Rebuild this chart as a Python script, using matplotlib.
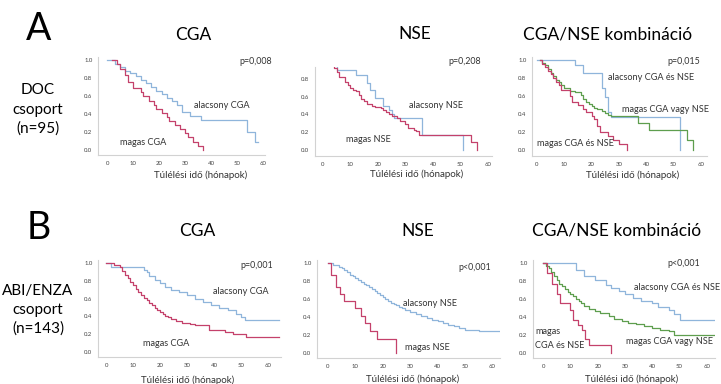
import numpy as np
import matplotlib
matplotlib.use("Agg")
import matplotlib.pyplot as plt

plt.rcParams['font.family'] = ['Lato', 'DejaVu Sans']

W, H = 721, 384

# ---- adatok (Kaplan-Meier lépcsők) ----
# A sor: DOC csoport
a_cga_low_t = [0, 3, 5, 7, 9, 11, 13, 15, 17, 19, 21, 23, 25, 27, 29, 32, 36, 54, 57]
a_cga_low_s = [1.0, 0.96, 0.92, 0.88, 0.85, 0.82, 0.78, 0.74, 0.70, 0.66, 0.62, 0.58, 0.55, 0.50, 0.42, 0.38, 0.33, 0.20, 0.09]
a_cga_low_end = 58
a_cga_high_t = [2, 4, 5, 7, 8, 10, 13, 14, 16, 18, 19, 21, 23, 24, 26, 28, 30, 31, 33, 35, 37]
a_cga_high_s = [1.0, 0.96, 0.90, 0.83, 0.76, 0.69, 0.64, 0.60, 0.55, 0.50, 0.46, 0.41, 0.37, 0.32, 0.28, 0.23, 0.19, 0.14, 0.09, 0.05, 0.0]

a_nse_low_t = [0, 5, 12, 16, 17, 19, 22, 24, 25, 26, 36, 51]
a_nse_low_s = [1.0, 0.90, 0.85, 0.76, 0.68, 0.59, 0.50, 0.45, 0.40, 0.36, 0.17, 0.0]
a_nse_high_t = [0, 4, 5, 6, 8, 9, 10, 11, 12, 13, 14, 15, 16, 18, 19, 21, 22, 23, 24, 25, 27, 28, 30, 31, 33, 34, 35, 54, 56]
a_nse_high_s = [1.0, 0.92, 0.88, 0.82, 0.77, 0.73, 0.70, 0.68, 0.66, 0.62, 0.58, 0.55, 0.52, 0.50, 0.48, 0.47, 0.45, 0.43, 0.40, 0.38, 0.36, 0.33, 0.29, 0.25, 0.23, 0.21, 0.17, 0.09, 0.0]

a_kom_low_t = [0, 14, 17, 24, 25, 26, 27, 52.5]
a_kom_low_s = [1.0, 0.94, 0.85, 0.69, 0.59, 0.42, 0.37, 0.0]
a_kom_mid_t = [1, 2, 3, 4, 5, 6, 7, 8, 9, 10, 12, 14, 16, 17, 18, 19, 20, 21, 22, 24, 25, 26, 27, 37, 41, 55, 57]
a_kom_mid_s = [1.0, 0.97, 0.94, 0.90, 0.86, 0.82, 0.78, 0.75, 0.72, 0.69, 0.66, 0.64, 0.61, 0.57, 0.53, 0.51, 0.49, 0.47, 0.45, 0.43, 0.41, 0.39, 0.38, 0.30, 0.22, 0.11, 0.0]
a_kom_high_t = [1, 2, 3, 4, 5, 6, 7, 8, 9, 12, 13, 15, 17, 18, 20, 21, 22, 23, 26, 28, 30, 33]
a_kom_high_s = [1.0, 0.95, 0.92, 0.88, 0.84, 0.80, 0.76, 0.72, 0.67, 0.60, 0.53, 0.50, 0.46, 0.42, 0.38, 0.34, 0.27, 0.20, 0.15, 0.11, 0.07, 0.0]

# B sor: ABI/ENZA csoport
b_cga_low_t = [0, 2, 14, 15, 16, 18, 20, 22, 24, 27, 30, 33, 36, 39, 42, 45, 48, 50, 51.5]
b_cga_low_s = [1.0, 0.96, 0.92, 0.90, 0.85, 0.81, 0.77, 0.73, 0.70, 0.68, 0.64, 0.60, 0.56, 0.53, 0.50, 0.47, 0.43, 0.39, 0.36]
b_cga_low_end = 64
b_cga_high_t = [0, 3, 5, 6, 7, 8, 9, 10, 11, 12, 13, 14, 15, 16, 17, 18, 19, 20, 21, 22, 23, 24, 26, 28, 31, 33, 38, 44, 47, 52]
b_cga_high_s = [1.0, 0.98, 0.95, 0.91, 0.87, 0.83, 0.79, 0.75, 0.71, 0.67, 0.64, 0.61, 0.58, 0.55, 0.53, 0.50, 0.47, 0.45, 0.43, 0.41, 0.39, 0.37, 0.35, 0.33, 0.31, 0.30, 0.25, 0.22, 0.20, 0.17]
b_cga_high_end = 64

b_nse_low_t = [0, 2, 4, 5, 6, 7, 8, 9, 10, 11, 12, 13, 14, 15, 16, 17, 18, 19, 20, 21, 22, 23, 24, 25, 26, 27, 28, 30, 32, 34, 36, 38, 40, 42, 44, 46, 48, 50, 52, 55]
b_nse_low_s = [1.0, 0.98, 0.96, 0.94, 0.92, 0.90, 0.87, 0.85, 0.83, 0.81, 0.79, 0.77, 0.75, 0.73, 0.71, 0.69, 0.67, 0.64, 0.62, 0.60, 0.58, 0.56, 0.54, 0.53, 0.51, 0.50, 0.48, 0.46, 0.43, 0.41, 0.39, 0.37, 0.35, 0.33, 0.31, 0.30, 0.28, 0.26, 0.25, 0.24]
b_nse_low_end = 63
b_nse_high_t = [0, 1, 3, 4.5, 6, 10, 12, 13.5, 15.5, 18, 25]
b_nse_high_s = [1.0, 0.87, 0.73, 0.66, 0.58, 0.50, 0.41, 0.33, 0.24, 0.16, 0.0]

b_kom_low_t = [0, 12, 15, 19, 23, 25, 28, 30, 33, 36, 40, 42, 46, 48, 50]
b_kom_low_s = [1.0, 0.92, 0.86, 0.81, 0.76, 0.72, 0.69, 0.65, 0.61, 0.58, 0.55, 0.51, 0.48, 0.43, 0.37]
b_kom_low_end = 63
b_kom_mid_t = [0, 1, 2, 3, 4, 5, 6, 7, 8, 9, 10, 11, 12, 13, 14, 15, 17, 19, 21, 24, 26, 29, 31, 34, 37, 40, 43, 46, 48]
b_kom_mid_s = [1.0, 0.97, 0.94, 0.90, 0.85, 0.81, 0.77, 0.74, 0.71, 0.68, 0.65, 0.63, 0.60, 0.58, 0.55, 0.52, 0.49, 0.47, 0.44, 0.41, 0.38, 0.35, 0.33, 0.32, 0.30, 0.28, 0.26, 0.24, 0.20]
b_kom_mid_end = 63
b_kom_high_t = [0, 1.3, 3.2, 5, 6.2, 9.9, 11.1, 12.9, 14.2, 15.4, 17, 25]
b_kom_high_s = [1.0, 0.885, 0.77, 0.66, 0.55, 0.48, 0.37, 0.31, 0.26, 0.16, 0.09, 0.0]

BLUE = '#8fb5db'
RED = '#c4416b'
GREEN = '#5e9e4e'

fig = plt.figure(figsize=(W / 100, H / 100), dpi=100)


def px_axes(left, right, top, bottom):
    return fig.add_axes([left / W, 1 - bottom / H, (right - left) / W, (bottom - top) / H])


def ftext(x, y, s, **kw):
    fig.text(x / W, 1 - y / H, s, ha=kw.pop('ha', 'center'), va=kw.pop('va', 'center'), **kw)


def km(ax, t, s, color, end=None):
    t = list(t)
    s = list(s)
    if end is not None:
        t.append(end)
        s.append(s[-1])
    ax.step(t, s, where='post', color=color, lw=0.9)


def style(ax, xlim, ylim):
    yt = [v for v in np.arange(0, 1.01, 0.2) if v <= ylim[1]]
    ax.set_xticks(range(0, 61, 10))
    ax.set_yticks(yt)
    ax.set_yticklabels([f'{v:.1f}' for v in yt])
    ax.set_xlim(*xlim)
    ax.set_ylim(*ylim)
    for side in ['top', 'right']:
        ax.spines[side].set_visible(False)
    for side in ['left', 'bottom']:
        ax.spines[side].set_color('#d2d2d2')
        ax.spines[side].set_linewidth(0.8)
    ax.tick_params(length=0, labelsize=4.3, colors='#444444', pad=4)
    ax.patch.set_alpha(0)


# A sor
ax = px_axes(98, 265, 57, 155)
km(ax, a_cga_low_t, a_cga_low_s, BLUE, a_cga_low_end)
km(ax, a_cga_high_t, a_cga_high_s, RED)
style(ax, (-3.5, 60.8), (-0.055, 1.033))

ax = px_axes(315, 492, 67, 156)
km(ax, a_nse_low_t, a_nse_low_s, BLUE)
km(ax, a_nse_high_t, a_nse_high_s, RED)
style(ax, (-2.9, 61.5), (-0.068, 0.935))

ax = px_axes(532, 707, 57, 156)
km(ax, a_kom_low_t, a_kom_low_s, BLUE)
km(ax, a_kom_mid_t, a_kom_mid_s, GREEN)
km(ax, a_kom_high_t, a_kom_high_s, RED)
style(ax, (-1.8, 62.3), (-0.067, 1.033))

# B sor
ax = px_axes(98, 281, 260, 357)
km(ax, b_cga_low_t, b_cga_low_s, BLUE, b_cga_low_end)
km(ax, b_cga_high_t, b_cga_high_s, RED, b_cga_high_end)
style(ax, (-3, 64.8), (-0.056, 1.034))

ax = px_axes(317, 500, 260, 358)
km(ax, b_nse_low_t, b_nse_low_s, BLUE, b_nse_low_end)
km(ax, b_nse_high_t, b_nse_high_s, RED)
style(ax, (-4, 62.8), (-0.056, 1.033))

ax = px_axes(533, 715, 260, 358)
km(ax, b_kom_low_t, b_kom_low_s, BLUE, b_kom_low_end)
km(ax, b_kom_mid_t, b_kom_mid_s, GREEN, b_kom_mid_end)
km(ax, b_kom_high_t, b_kom_high_s, RED)
style(ax, (-3.7, 63), (-0.056, 1.033))

# feliratok
ftext(39, 29, 'A', fontsize=27)
ftext(39, 228, 'B', fontsize=27)

side = dict(fontsize=11)
ftext(38, 90, 'DOC', **side)
ftext(38, 110, 'csoport', **side)
ftext(38, 129, '(n=95)', **side)
ftext(38, 291, 'ABI/ENZA', **side)
ftext(38, 310, 'csoport', **side)
ftext(38, 329, '(n=143)', **side)

for x, y, s in [(193, 35, 'CGA'), (415, 34, 'NSE'), (608, 35, 'CGA/NSE kombináció'),
                (197, 231, 'CGA'), (418, 231, 'NSE'), (617, 231, 'CGA/NSE kombináció')]:
    ftext(x, y, s, fontsize=12.5)

for x, y in [(201, 175), (417, 174), (633, 175), (188, 380), (413, 379), (632, 379)]:
    ftext(x, y, 'Túlélési idő (hónapok)', fontsize=7, color='#333333')

lab = dict(fontsize=6.6, color='#333333')
pv = dict(fontsize=6.4, color='#333333')
ftext(256, 62, 'p=0,008', **pv)
ftext(465, 62, 'p=0,208', **pv)
ftext(684, 62, 'p=0,015', **pv)
ftext(257, 266, 'p=0,001', **pv)
ftext(475, 267, 'p<0,001', **pv)
ftext(684, 264, 'p<0,001', **pv)

ftext(222, 105, 'alacsony CGA', **lab)
ftext(143, 142, 'magas CGA', **lab)
ftext(436, 106, 'alacsony NSE', **lab)
ftext(368, 139, 'magas NSE', **lab)
ftext(651, 77, 'alacsony CGA és NSE', **lab)
ftext(666, 109, 'magas CGA vagy NSE', **lab)
ftext(575, 144, 'magas CGA és NSE', **lab)

ftext(241, 292, 'alacsony CGA', **lab)
ftext(166, 343, 'magas CGA', **lab)
ftext(430, 304, 'alacsony NSE', **lab)
ftext(427, 347, 'magas NSE', **lab)
ftext(677, 288, 'alacsony CGA és NSE', **lab)
ftext(670, 342, 'magas CGA vagy NSE', **lab)
ftext(535, 332, 'magas', ha='left', **lab)
ftext(535, 345, 'CGA és NSE', ha='left', **lab)

fig.savefig('out.png', dpi=100)
